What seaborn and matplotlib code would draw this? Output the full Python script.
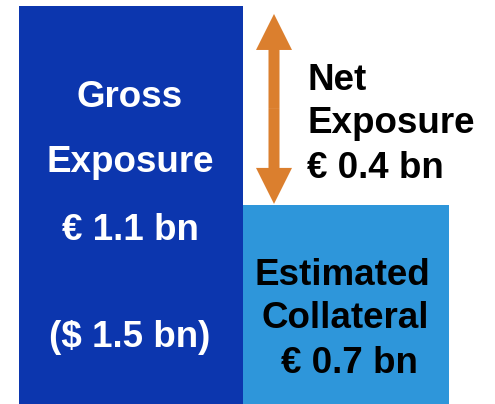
import matplotlib
matplotlib.use("Agg")
import matplotlib.pyplot as plt
import matplotlib.patches as mpatches
import seaborn as sns
import pandas as pd

# values (bar heights are as drawn, not to scale of the labels)
categories = ["Gross Exposure", "Estimated Collateral"]
bar_heights = [1.1, 0.55]
net_arrow = [0.553, 1.078]          # arrow from collateral top to near gross top

gross_lines = ["Gross", "Exposure", "€ 1.1 bn", "($ 1.5 bn)"]
collateral_lines = ["Estimated", "Collateral", "€ 0.7 bn"]
net_lines = ["Net", "Exposure", "€ 0.4 bn"]

DARK_BLUE = "#0C36AE"
LIGHT_BLUE = "#2E96DA"
ORANGE = "#DB7F2E"

W, H = 495, 404
sns.set_theme(style="white")
plt.rcParams["font.family"] = ["Liberation Sans", "DejaVu Sans"]

fig = plt.figure(figsize=(W / 100, H / 100), dpi=100)
ax = fig.add_axes([0, 0, 1, 1])

df = pd.DataFrame({"cat": categories, "val": bar_heights})
sns.barplot(data=df, x="cat", y="val", hue="cat",
            palette=[DARK_BLUE, LIGHT_BLUE], width=1.0,
            errorbar=None, legend=False, saturation=1,
            linewidth=0, edgecolor="none", ax=ax)

# pixel scale: left bar spans 224 px wide, 398 px tall
ux = 224.0
uy = (404 - 6) / bar_heights[0]
x0 = -0.5 - 19 / ux
ax.set_xlim(x0, x0 + W / ux)
ax.set_ylim(0, H / uy)

# right bar narrower and flush with the left one
right = ax.patches[1]
right.set_x(0.5)
right.set_width(206 / ux)

# double-headed net exposure arrow
ax_x = x0 + 274 / ux
mid = (net_arrow[0] + net_arrow[1]) / 2
for end in net_arrow:
    ax.add_patch(mpatches.FancyArrow(
        ax_x, mid, 0, end - mid, width=11 / ux, head_width=36 / ux,
        head_length=36 / uy, length_includes_head=True,
        color=ORANGE, linewidth=0))

ax.set_axis_off()

fs = 26.5
def px_text(x, y, s, color, ha="center"):
    fig.text(x / W, 1 - y / H, s, color=color, fontsize=fs,
             fontweight="bold", ha=ha, va="baseline")

for s, y in zip(gross_lines, [107, 172, 240, 347]):
    px_text(130, y, s, "white")
for s, x, y in zip(collateral_lines, [342, 345, 349], [285, 328, 373]):
    px_text(x, y, s, "black")
for s, y in zip(net_lines, [90, 133, 178]):
    px_text(307, y, s, "black", ha="left")

fig.savefig("out.png", dpi=100)
